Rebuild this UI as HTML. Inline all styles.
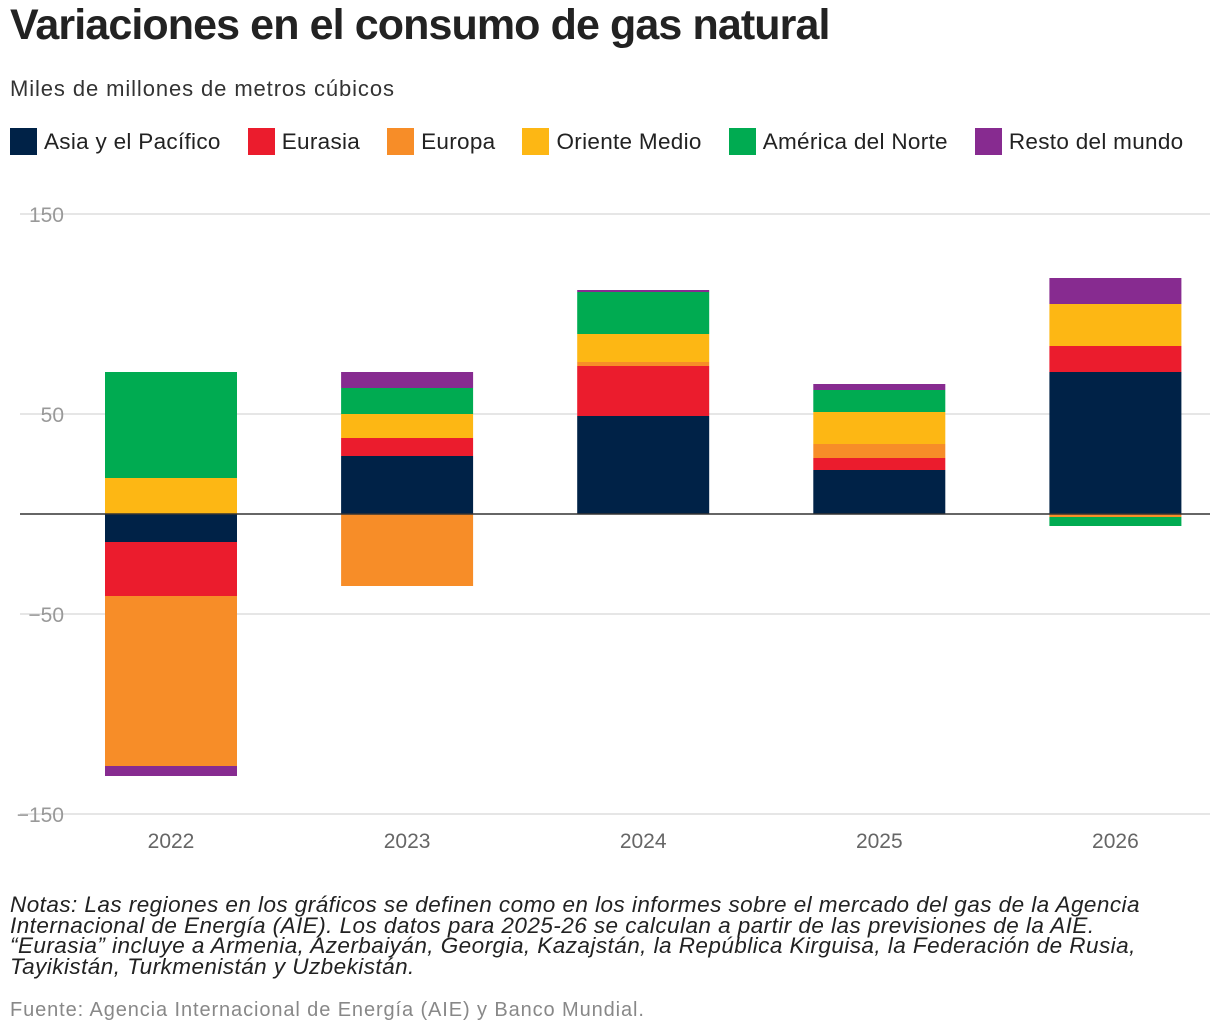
<!DOCTYPE html>
<html><head><meta charset="utf-8">
<style>
body{margin:0;background:#fff;font-family:"Liberation Sans",Arial,sans-serif;color:#222;}
#wrap{position:relative;width:1220px;height:1034px;overflow:hidden;}
h1{position:absolute;left:10px;top:1px;margin:0;font-size:43px;font-weight:bold;letter-spacing:-0.9px;color:#222;white-space:nowrap;}
.sub{position:absolute;left:10px;top:76px;font-size:22px;letter-spacing:0.9px;color:#333;white-space:nowrap;}
.legend{position:absolute;left:10px;top:128px;font-size:22.5px;letter-spacing:0.3px;display:flex;white-space:nowrap;}
.li{display:flex;align-items:center;margin-right:27px;}
.sw{width:27px;height:27px;margin-right:7px;}
.notes{position:absolute;left:10px;top:895px;font-size:22.5px;letter-spacing:0.45px;font-style:italic;line-height:20.5px;color:#222;white-space:nowrap;}
.src{position:absolute;left:10px;top:999px;font-size:20px;letter-spacing:0.9px;color:#888;white-space:nowrap;}
</style></head><body>
<div id="wrap">
<h1>Variaciones en el consumo de gas natural</h1>
<div class="sub">Miles de millones de metros cúbicos</div>
<div class="legend">
<div class="li"><div class="sw" style="background:#002247"></div>Asia y el Pacífico</div>
<div class="li"><div class="sw" style="background:#eb1c2d"></div>Eurasia</div>
<div class="li"><div class="sw" style="background:#f78d28"></div>Europa</div>
<div class="li"><div class="sw" style="background:#fdb714"></div>Oriente Medio</div>
<div class="li"><div class="sw" style="background:#00ab51"></div>América del Norte</div>
<div class="li"><div class="sw" style="background:#872b90"></div>Resto del mundo</div>
</div>
<svg id="chart" width="1220" height="1034" style="position:absolute;left:0;top:0"></svg>
<div class="notes">Notas: Las regiones en los gráficos se definen como en los informes sobre el mercado del gas de la Agencia<br>Internacional de Energía (AIE). Los datos para 2025-26 se calculan a partir de las previsiones de la AIE.<br>“Eurasia” incluye a Armenia, Azerbaiyán, Georgia, Kazajstán, la República Kirguisa, la Federación de Rusia,<br>Tayikistán, Turkmenistán y Uzbekistán.</div>
<div class="src">Fuente: Agencia Internacional de Energía (AIE) y Banco Mundial.</div>
</div>
<script>
const categories=["2022","2023","2024","2025","2026"];
const asia=[-14,29,49,22,71];
const eurasia=[-27,9,25,6,13];
const europa=[-85,-36,2,7,-1.5];
const oriente=[18,12,14,16,21];
const norte=[53,13,21,11,-4.5];
const resto=[-5,8,1,3,13];
const ticks=[150,50,-50,-150];
const tickLabels=["150","50","−50","−150"];
const series=[["asia",asia,"#002247"],["eurasia",eurasia,"#eb1c2d"],["europa",europa,"#f78d28"],["oriente-medio",oriente,"#fdb714"],["america-norte",norte,"#00ab51"],["resto",resto,"#872b90"]];
const svg=document.getElementById('chart');
const NS="http://www.w3.org/2000/svg";
const y=v=>514-2*v;
const x=i=>171+i*236.1;
const bw=132;
function mk(t,a){const e=document.createElementNS(NS,t);for(const k in a)e.setAttribute(k,a[k]);svg.appendChild(e);return e;}
ticks.forEach((t,i)=>{
 const l=mk('line',{x1:20,x2:1210,y1:y(t),y2:y(t),stroke:'#ddd','stroke-width':1.5});
 
 
 const tx=mk('text',{x:64,y:y(t)+8,'text-anchor':'end','font-size':21,fill:'#999','font-family':'Liberation Sans, sans-serif'});
 tx.textContent=tickLabels[i];
 
 
});
categories.forEach((c,i)=>{
 let pos=0,neg=0;
 series.forEach(([n,arr,col])=>{
  const v=arr[i];let y0,y1;
  if(v>=0){y0=y(pos+v);y1=y(pos);pos+=v;}else{y0=y(neg);y1=y(neg+v);neg+=v;}
  const r=mk('rect',{x:x(i)-bw/2,y:y0,width:bw,height:Math.max(0,y1-y0),fill:col});
  
  
 });
 const t=mk('text',{x:x(i),y:848,'text-anchor':'middle','font-size':21,fill:'#666','font-family':'Liberation Sans, sans-serif'});
 t.textContent=c;
 
 
});
const z=mk('line',{x1:20,x2:1210,y1:y(0),y2:y(0),stroke:'#333','stroke-width':1.5});


</script>
</body></html>
